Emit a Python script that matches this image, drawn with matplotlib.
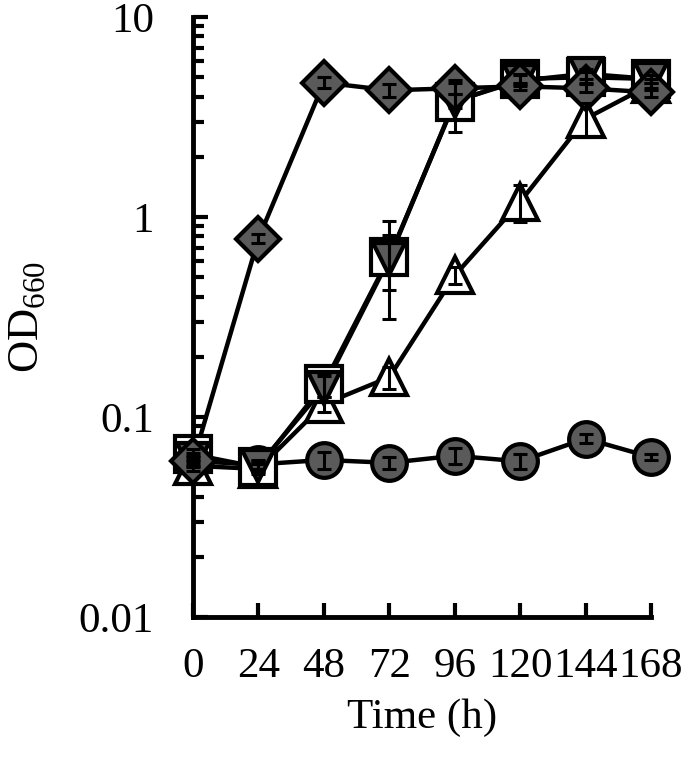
import numpy as np
import matplotlib
matplotlib.use("Agg")
import matplotlib.pyplot as plt
from matplotlib.ticker import LogLocator, FixedLocator, NullFormatter

plt.rcParams['font.family'] = ['Liberation Serif', 'DejaVu Serif']
plt.rcParams['mathtext.fontset'] = 'custom'
plt.rcParams['mathtext.rm'] = 'Liberation Serif'

time = [0, 24, 48, 72, 96, 120, 144, 168]
xticks = [0, 24, 48, 72, 96, 120, 144, 168]

# OD660 readings and errors per strain
diam = [0.060, 0.78, 4.7, 4.3, 4.4, 4.5, 4.4, 4.2]
diam_err = [0.003, 0.04, 0.3, 0.3, 0.3, 0.2, 0.2, 0.2]
sq = [0.065, 0.056, 0.146, 0.63, 3.76, 4.9, 5.0, 4.9]
sq_err = [0.004, 0.003, 0.02, 0.32, 1.1, 0.3, 0.3, 0.2]
tdown = [0.062, 0.057, 0.14, 0.62, 3.8, 4.8, 5.2, 4.9]
tdown_err = [0.004, 0.003, 0.02, 0.19, 0.3, 0.3, 0.3, 0.2]
tri = [0.057, 0.055, 0.116, 0.158, 0.51, 1.19, 3.1, 4.6]
tri_err = [0.003, 0.003, 0.01, 0.02, 0.05, 0.25, 0.6, 0.3]
circ = [0.060, 0.058, 0.061, 0.059, 0.064, 0.060, 0.078, 0.063]
circ_err = [0.004, 0.003, 0.006, 0.004, 0.006, 0.005, 0.004, 0.002]

gray = '#5a5a5a'
fig = plt.figure(figsize=(6.85, 7.58), dpi=100)
ax = fig.add_axes([193/685, 1-617/758, (651-193)/685, 600/758])

series = [
    (circ, circ_err, 'o', gray, 25),
    (tri, tri_err, '^', 'white', 26),
    (sq, sq_err, 's', 'white', 26),
    (tdown, tdown_err, 'v', gray, 23),
    (diam, diam_err, 'D', gray, 22),
]
for vals, err, m, fc, ms in series:
    ax.plot(time, vals, '-', color='black', lw=3.2, clip_on=False, zorder=2)
for vals, err, m, fc, ms in series:
    ax.plot(time, vals, m, mfc=fc, mec='black', mew=3, ms=ms,
            clip_on=False, zorder=3)
    ax.errorbar(time, vals, yerr=err, fmt='none', ecolor='black',
                elinewidth=2.2, capsize=5, capthick=2.2, clip_on=False, zorder=4)

ax.set_yscale('log')
ax.set_ylim(0.01, 10)
ax.set_xlim(0, 168)
ax.xaxis.set_major_locator(FixedLocator(xticks))
ax.set_xticklabels([str(t) for t in xticks])
ax.yaxis.set_major_locator(FixedLocator([0.01, 0.1, 1, 10]))
ax.set_yticklabels(['0.01', '0.1', '1', '10'])
ax.yaxis.set_minor_locator(LogLocator(base=10, subs=np.arange(2, 10)))
ax.yaxis.set_minor_formatter(NullFormatter())

for s in ['top', 'right']:
    ax.spines[s].set_visible(False)
for s in ['left', 'bottom']:
    ax.spines[s].set_linewidth(3.5)

ax.tick_params(axis='y', which='major', direction='in', length=11, width=3,
               labelsize=31, pad=28)
ax.tick_params(axis='y', which='minor', direction='in', length=8, width=3)
ax.tick_params(axis='x', which='major', direction='in', length=10, width=3,
               labelsize=31, pad=22)

ax.set_xlabel('Time (h)', fontsize=31, labelpad=9)
ax.set_ylabel(r'OD$_{\mathrm{660}}$', fontsize=32, labelpad=22)

fig.savefig('out.png', dpi=100)
